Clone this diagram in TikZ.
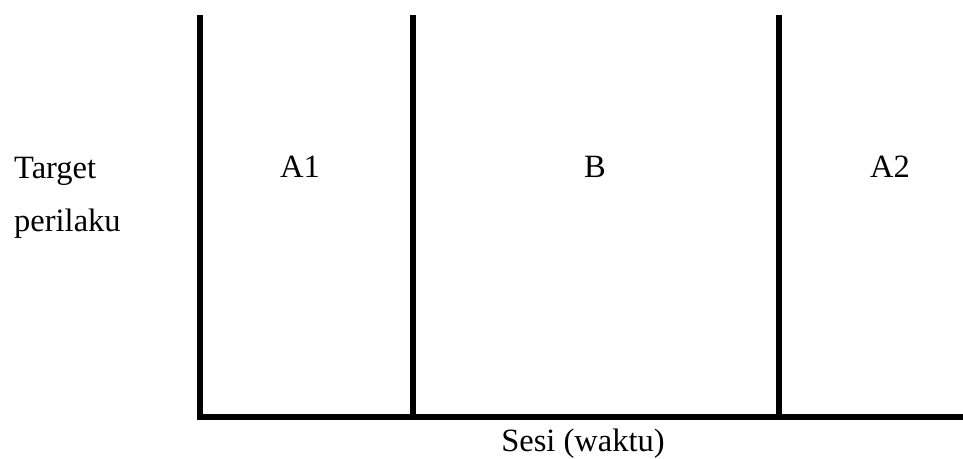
\documentclass[tikz,border=0pt]{standalone}
\usepackage{fontspec}
\setmainfont{Liberation Serif}
\begin{document}
\begin{tikzpicture}[x=1pt,y=-1pt,
  axis/.style={line width=6pt,black},
  lbl/.style={inner sep=0pt,font=\fontsize{32.5}{39}\selectfont}]
\useasboundingbox (0,0) rectangle (963,458);
% phase boundaries and time axis
\coordinate (t0) at (200,15);
\coordinate (t1) at (413,15);
\coordinate (t2) at (779,15);
\coordinate (b0) at (200,417);
\coordinate (b1) at (413,417);
\coordinate (b2) at (779,417);
\coordinate (xs) at (197,417);
\coordinate (xe) at (963,417);
\draw[axis] (t0) -- (b0);
\draw[axis] (t1) -- (b1);
\draw[axis] (t2) -- (b2);
\draw[axis] (xs) -- (xe);
% labels
\node[lbl,anchor=base west] (target) at (14,178) {Target};
\node[lbl,anchor=base west] (perilaku) at (14,231) {perilaku};
\node[lbl,anchor=base] (a1) at (300,177) {A1};
\node[lbl,anchor=base] (b) at (595,177) {B};
\node[lbl,anchor=base] (a2) at (890,177) {A2};
\node[lbl,anchor=base] (sesi) at (583,451) {Sesi (waktu)};
\end{tikzpicture}
\end{document}
